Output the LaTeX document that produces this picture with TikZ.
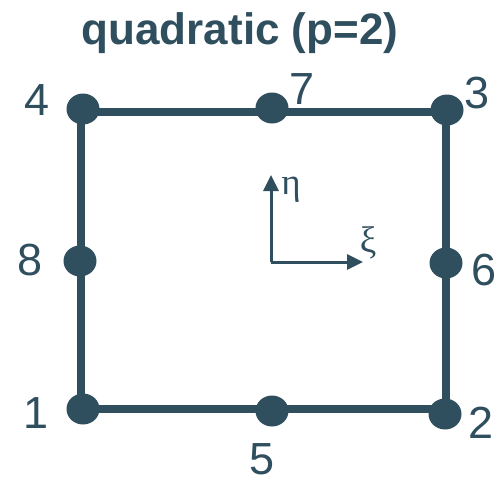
\documentclass[tikz,border=0pt]{standalone}
\usepackage{fontspec}
\setmainfont{Liberation Sans}
\newfontfamily\greekfont{Liberation Serif}
\usetikzlibrary{arrows.meta,shapes.geometric}
\definecolor{slate}{HTML}{2F4E5E}
\begin{document}
\begin{tikzpicture}[x=1pt,y=-1pt,
  dot/.style={ellipse,fill=slate,minimum width=33pt,minimum height=31pt,inner sep=0pt},
  edge/.style={draw=slate,line width=8.5pt},
  lab/.style={text=slate,font=\fontsize{45}{45}\selectfont,inner sep=0pt,anchor=base},
  axis/.style={draw=slate,line width=3pt,-{Triangle[length=16pt,width=15pt]}},
  glab/.style={text=slate,font=\greekfont\fontsize{37}{37}\selectfont,inner sep=0pt,anchor=base}]
\useasboundingbox (0,0) rectangle (497,479);
\node[text=slate,font=\bfseries\fontsize{44}{44}\selectfont,inner sep=0pt,anchor=base] (title) at (240,44) {quadratic (p=2)};
\coordinate (c1) at (81,409);
\coordinate (c2) at (446,409);
\coordinate (c3) at (446,112);
\coordinate (c4) at (81,112);
\draw[edge,line join=miter] (c1) -- (c2) -- (c3) -- (c4) -- cycle;
\node[dot] (n4) at (83,109) {};
\node[dot] (n7) at (272,108) {};
\node[dot] (n3) at (447,110) {};
\node[dot] (n8) at (80,261) {};
\node[dot] (n6) at (446,263) {};
\node[dot] (n1) at (83,409) {};
\node[dot] (n5) at (272,411) {};
\node[dot] (n2) at (445,414) {};
\node[lab] (l4) at (37,115) {4};
\node[lab] (l7) at (302,104) {7};
\node[lab] (l3) at (477,108) {3};
\node[lab] (l8) at (30,275) {8};
\node[lab] (l6) at (484,285) {6};
\node[lab] (l1) at (36,428) {1};
\node[lab] (l5) at (262,474) {5};
\node[lab] (l2) at (481,438) {2};
\coordinate (o) at (271,262);
\coordinate (ye) at (271,175);
\coordinate (xe) at (363,262);
\draw[axis] (o) -- (ye);
\draw[axis] (o) -- (xe);
\node[glab] (eta) at (291,194) {η};
\node[glab] (xi) at (368,252) {ξ};
\end{tikzpicture}
\end{document}
